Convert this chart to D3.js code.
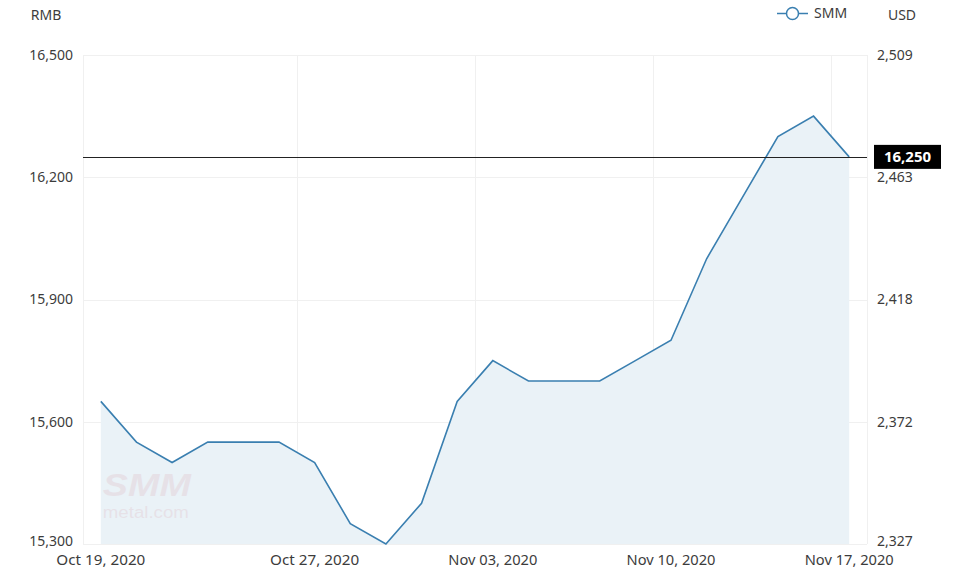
<!DOCTYPE html>
<html>
<head>
<meta charset="utf-8">
<script src="https://cdn.jsdelivr.net/npm/d3@7"></script>
<style>
  html, body { margin: 0; padding: 0; background: #fff; }
  svg { display: block; font-family: "Noto Sans", "Open Sans", sans-serif; }
</style>
</head>
<body>
<svg id="chart" width="954" height="585"></svg>
<script>
// ---- data ----
const dates = ["Oct 19, 2020","Oct 20, 2020","Oct 21, 2020","Oct 22, 2020","Oct 23, 2020",
  "Oct 26, 2020","Oct 27, 2020","Oct 28, 2020","Oct 29, 2020","Oct 30, 2020",
  "Nov 02, 2020","Nov 03, 2020","Nov 04, 2020","Nov 05, 2020","Nov 06, 2020",
  "Nov 09, 2020","Nov 10, 2020","Nov 11, 2020","Nov 12, 2020","Nov 13, 2020",
  "Nov 16, 2020","Nov 17, 2020"];
const prices = [15650,15550,15500,15550,15550,15550,15500,15350,15300,15400,
  15650,15750,15700,15700,15700,15750,15800,16000,16150,16300,16350,16250];
const xTickLabels = ["Oct 19, 2020","Oct 27, 2020","Nov 03, 2020","Nov 10, 2020","Nov 17, 2020"];
const yTicks = [15300,15600,15900,16200,16500];
const usdTickLabels = ["2,327","2,372","2,418","2,463","2,509"];
const seriesName = "SMM";
const currentPrice = 16250;

// ---- layout ----
const svg = d3.select("#chart");
const pL = 83, pR = 867, pT = 55, pB = 544;
const lineColor = "#3a7fb0";
const textColor = "#3c3c3c";
const gridColor = "#f0f0f0";

const x = d3.scaleBand().domain(dates).range([pL, pR]).padding(0);
const bw = x.bandwidth();
const cx = d => x(d) + bw / 2;
const y = d3.scaleLinear().domain([15300, 16500]).range([pB, pT]);
const yUsd = d3.scaleOrdinal().domain(yTicks).range(usdTickLabels);
const fmt = d3.format(",");
const labelY = d => Math.min(y(d), pB - 3);

// grid: horizontal
svg.append("g").selectAll("line").data(yTicks).join("line")
  .attr("x1", pL).attr("x2", pR)
  .attr("y1", d => Math.round(y(d)) + 0.5).attr("y2", d => Math.round(y(d)) + 0.5)
  .attr("stroke", gridColor).attr("stroke-width", 1);
// grid: vertical at left edge of labelled bands + right border
svg.append("g").selectAll("line").data(xTickLabels).join("line")
  .attr("x1", d => Math.round(x(d)) + 0.5).attr("x2", d => Math.round(x(d)) + 0.5)
  .attr("y1", pT).attr("y2", pB)
  .attr("stroke", gridColor).attr("stroke-width", 1);
svg.append("line").attr("x1", pR + 0.5).attr("x2", pR + 0.5)
  .attr("y1", pT).attr("y2", pB).attr("stroke", gridColor);

// area
const data = dates.map((d, i) => ({ d, v: prices[i] }));
svg.append("path").datum(data)
  .attr("d", d3.area().x(p => cx(p.d)).y0(pB).y1(p => y(p.v)))
  .attr("fill", "#eaf2f7");

// watermark
const wm = svg.append("g").attr("fill", "#c8404f").attr("opacity", 0.09)
  .attr("font-family", "Liberation Sans, Arial, sans-serif");
wm.append("text").attr("x", cx(dates[0]) + 2).attr("y", 496)
  .attr("font-size", 32).attr("font-weight", 900).attr("font-style", "italic")
  .attr("textLength", 88).attr("lengthAdjust", "spacingAndGlyphs").text("SMM");
wm.append("text").attr("x", cx(dates[0]) + 2).attr("y", 518)
  .attr("font-size", 16).attr("textLength", 86).attr("lengthAdjust", "spacingAndGlyphs")
  .text("metal.com");

// line
svg.append("path").datum(data)
  .attr("d", d3.line().x(p => cx(p.d)).y(p => y(p.v)))
  .attr("fill", "none").attr("stroke", lineColor).attr("stroke-width", 1.6)
  .attr("stroke-linejoin", "miter");

// current price line
svg.append("line").attr("x1", pL).attr("x2", pR)
  .attr("y1", Math.round(y(currentPrice)) + 0.5).attr("y2", Math.round(y(currentPrice)) + 0.5)
  .attr("stroke", "#222").attr("stroke-width", 1);

// left axis labels
svg.append("g").selectAll("text").data(yTicks).join("text")
  .attr("x", 73).attr("y", labelY).attr("dy", "0.35em")
  .attr("text-anchor", "end").attr("font-size", 14).attr("fill", textColor)
  .text(d => fmt(d));
// right axis labels
svg.append("g").selectAll("text").data(yTicks).join("text")
  .attr("x", 877).attr("y", labelY).attr("dy", "0.35em")
  .attr("text-anchor", "start").attr("font-size", 14).attr("fill", textColor)
  .text(d => yUsd(d));
// x labels
svg.append("g").selectAll("text").data(xTickLabels).join("text")
  .attr("x", d => cx(d)).attr("y", 560).attr("dy", "0.35em")
  .attr("text-anchor", "middle").attr("font-size", 14).attr("fill", textColor)
  .attr("textLength", 89).attr("lengthAdjust", "spacingAndGlyphs")
  .text(d => d);

// unit titles
svg.append("text").attr("x", 46).attr("y", 15).attr("dy", "0.35em")
  .attr("text-anchor", "middle").attr("font-size", 14).attr("fill", textColor).text("RMB");
svg.append("text").attr("x", 902).attr("y", 15).attr("dy", "0.35em")
  .attr("text-anchor", "middle").attr("font-size", 14).attr("fill", textColor).text("USD");

// legend
const lg = svg.append("g");
lg.append("line").attr("x1", 777).attr("x2", 808).attr("y1", 13.5).attr("y2", 13.5)
  .attr("stroke", lineColor).attr("stroke-width", 1.5);
lg.append("circle").attr("cx", 792.5).attr("cy", 13.5).attr("r", 6)
  .attr("fill", "#fff").attr("stroke", lineColor).attr("stroke-width", 1.5);
lg.append("text").attr("x", 814).attr("y", 13.5).attr("dy", "0.35em")
  .attr("font-size", 14).attr("fill", textColor).text(seriesName);

// current price tag
const tagY = y(currentPrice);
svg.append("rect").attr("x", 874).attr("y", tagY - 12).attr("width", 67).attr("height", 24)
  .attr("fill", "#000");
svg.append("text").attr("x", 907.5).attr("y", tagY).attr("dy", "0.35em")
  .attr("text-anchor", "middle").attr("font-size", 15).attr("font-weight", 700)
  .attr("fill", "#fff").text(fmt(currentPrice));
</script>
</body>
</html>
